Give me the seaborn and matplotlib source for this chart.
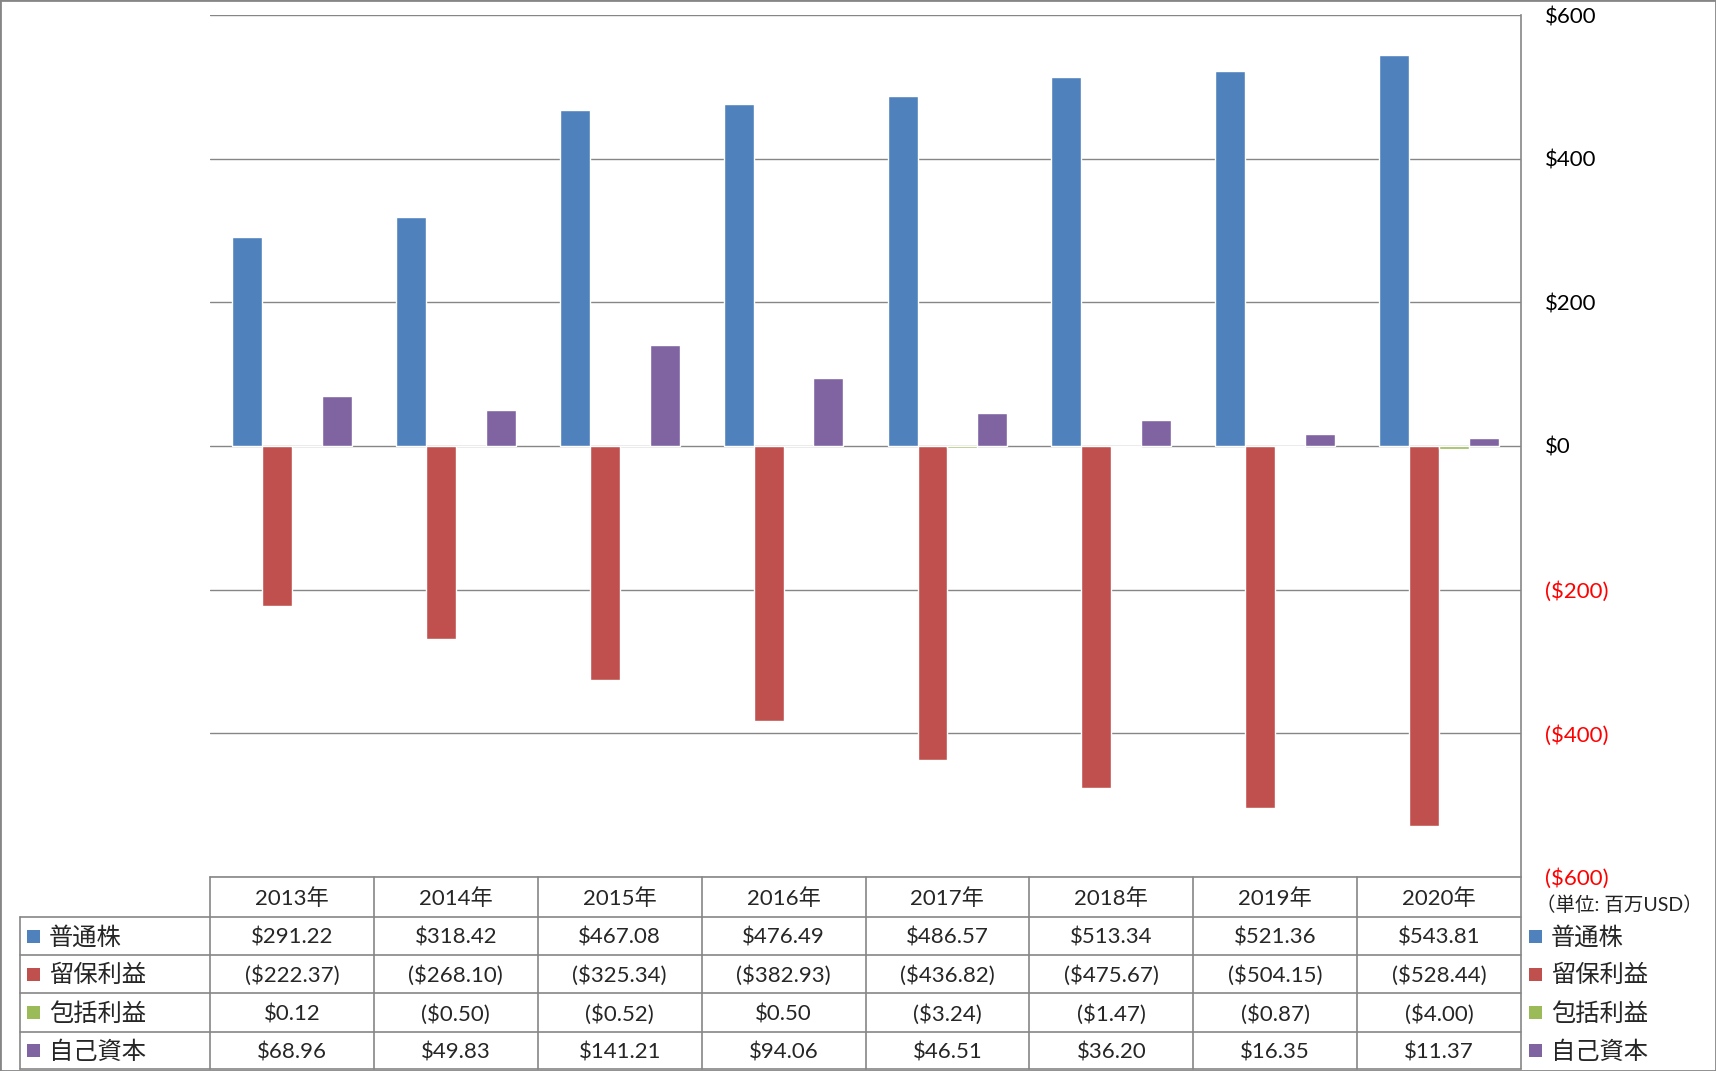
import matplotlib
matplotlib.use('Agg')
import matplotlib.pyplot as plt
from matplotlib.patches import Rectangle
from matplotlib.lines import Line2D
import seaborn as sns
import pandas as pd

years = ['2013年', '2014年', '2015年', '2016年', '2017年', '2018年', '2019年', '2020年']
series_names = ['普通株', '留保利益', '包括利益', '自己資本']
common_stock = [291.22, 318.42, 467.08, 476.49, 486.57, 513.34, 521.36, 543.81]
retained_earnings = [-222.37, -268.10, -325.34, -382.93, -436.82, -475.67, -504.15, -528.44]
comprehensive_income = [0.12, -0.50, -0.52, 0.50, -3.24, -1.47, -0.87, -4.00]
equity = [68.96, 49.83, 141.21, 94.06, 46.51, 36.20, 16.35, 11.37]
colors = ['#4F81BD', '#C0504D', '#9BBB59', '#8064A2']
yticks = [-600, -400, -200, 0, 200, 400, 600]
unit_note = '（単位: 百万USD）'

values = [common_stock, retained_earnings, comprehensive_income, equity]

df = pd.DataFrame({
    'year': [y for _ in series_names for y in years],
    'series': [s for s in series_names for _ in years],
    'value': [v for vals in values for v in vals],
})


def money(v, decimals=2):
    s = f"${abs(v):.{decimals}f}"
    return f"({s})" if v < 0 else s


sns.set_style('white')
plt.rcParams['font.family'] = ['Lato', 'Noto Sans CJK JP', 'DejaVu Sans']

W, H = 1716, 1071
grey = '#868686'
fig = plt.figure(figsize=(W / 100, H / 100), dpi=100)

# plot area in pixel coords
left, right, top, bottom = 210, 1521, 15, 877
ax = fig.add_axes([left / W, 1 - bottom / H, (right - left) / W, (bottom - top) / H])

sns.barplot(data=df, x='year', y='value', hue='series', order=years,
            hue_order=series_names, palette=colors, saturation=1,
            width=0.73, gap=0, legend=False, ax=ax)

ax.set_xlim(-0.5, len(years) - 0.5)
ax.set_ylim(min(yticks), max(yticks))
ax.set_xticks([])
ax.set_xlabel('')
ax.set_ylabel('')
ax.yaxis.tick_right()
ax.set_yticks(yticks)
ax.set_yticklabels([money(t, 0) for t in yticks])
for lab, t in zip(ax.get_yticklabels(), yticks):
    lab.set_color('#FF0000' if t < 0 else 'black')
ax.tick_params(axis='y', length=0, pad=17, labelsize=16)
for t in yticks:
    ax.axhline(t, color=grey, lw=1, zorder=0)
for side in ['left', 'top', 'bottom']:
    ax.spines[side].set_visible(False)
ax.spines['right'].set_color(grey)
ax.spines['right'].set_linewidth(1.2)


def fx(x):
    return x / W


def fy(y):
    return 1 - y / H


# data table under the chart
colw = (right - left) / len(years)
row_edges = [877, 917, 955, 993, 1032, 1069]
label_left = 20

fig.add_artist(Line2D([fx(left), fx(right)], [fy(row_edges[0])] * 2, color=grey, lw=1.2))
for y in row_edges[1:]:
    fig.add_artist(Line2D([fx(label_left), fx(right)], [fy(y)] * 2, color=grey, lw=1.2))
fig.add_artist(Line2D([fx(label_left)] * 2, [fy(row_edges[1]), fy(row_edges[-1])], color=grey, lw=1.2))
for i in range(len(years) + 1):
    x = left + i * colw
    fig.add_artist(Line2D([fx(x)] * 2, [fy(row_edges[0]), fy(row_edges[-1])], color=grey, lw=1.2))

for i, yr in enumerate(years):
    cx = left + (i + 0.5) * colw
    fig.text(fx(cx), fy((row_edges[0] + row_edges[1]) / 2 + 2), yr,
             ha='center', va='center', fontsize=16)

sq = 13
for r, (name, vals, col) in enumerate(zip(series_names, values, colors)):
    cy = (row_edges[r + 1] + row_edges[r + 2]) / 2
    for i, v in enumerate(vals):
        cx = left + (i + 0.5) * colw
        fig.text(fx(cx), fy(cy + 2), money(v), ha='center', va='center', fontsize=16)
    # row label with colour key, and legend on the right
    for kx, tx in [(27, 49), (1529, 1551)]:
        fig.add_artist(Rectangle((fx(kx), fy(cy + sq / 2)), sq / W, sq / H,
                                 facecolor=col, edgecolor='none'))
        fig.text(fx(tx), fy(cy + 1), name, ha='left', va='center', fontsize=17.5)

fig.text(fx(1536), fy(905), unit_note, ha='left', va='center', fontsize=14, color='#222222')

# outer frame
fig.add_artist(Rectangle((0, 0), 1, 1, transform=fig.transFigure, fill=False,
                         edgecolor=grey, lw=2))

fig.savefig('out.png', dpi=100)
